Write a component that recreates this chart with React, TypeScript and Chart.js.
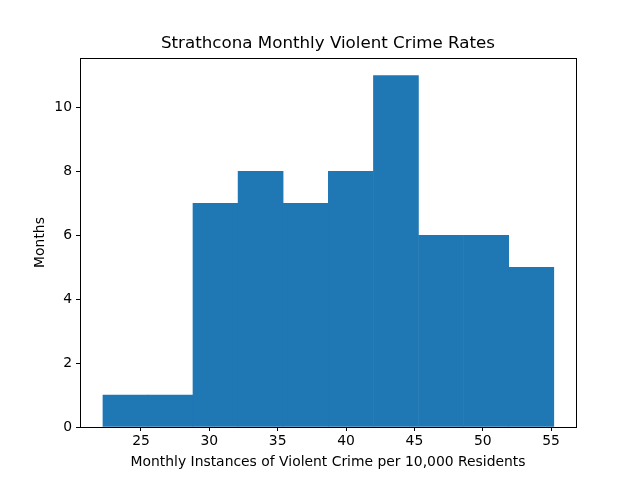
import React, { useEffect, useRef } from "react";
import Chart from "chart.js/auto";

const binEdges = [22.22, 25.51, 28.8, 32.1, 35.4, 38.7, 42.0, 45.3, 48.6, 51.9, 55.2];
const counts = [1, 1, 7, 8, 7, 8, 11, 6, 6, 5];
const xTicks = [25, 30, 35, 40, 45, 50, 55];
const yTicks = [0, 2, 4, 6, 8, 10];

const FONT = "'DejaVu Sans', sans-serif";

const App: React.FC = () => {
  const canvasRef = useRef<HTMLCanvasElement | null>(null);

  useEffect(() => {
    document.body.style.margin = "0";
    if (!canvasRef.current) return;
    const points = counts.map((c, i) => ({ x: (binEdges[i] + binEdges[i + 1]) / 2, y: c }));

    // frame, title and axis titles drawn by hand to match matplotlib placement
    const frame = {
      id: "frame",
      afterDraw(chart: any) {
        const { ctx, chartArea: a } = chart;
        ctx.save();
        ctx.strokeStyle = "#000";
        ctx.lineWidth = 1;
        ctx.strokeRect(a.left + 0.5, a.top + 0.5, a.right - a.left, a.bottom - a.top);
        ctx.fillStyle = "#000";
        ctx.textAlign = "center";
        ctx.font = `16.7px ${FONT}`;
        ctx.textBaseline = "bottom";
        ctx.fillText("Strathcona Monthly Violent Crime Rates", (a.left + a.right) / 2, a.top - 6);
        ctx.font = `13.9px ${FONT}`;
        ctx.textBaseline = "middle";
        ctx.fillText("Monthly Instances of Violent Crime per 10,000 Residents", (a.left + a.right) / 2, 462);
        ctx.translate(40, (a.top + a.bottom) / 2);
        ctx.rotate(-Math.PI / 2);
        ctx.fillText("Months", 0, 0);
        ctx.restore();
      },
    };

    const chart = new Chart(canvasRef.current, {
      type: "bar",
      data: {
        datasets: [
          {
            data: points,
            backgroundColor: "#1f77b4",
            barPercentage: 1,
            categoryPercentage: 1,
          },
        ],
      },
      options: {
        animation: false,
        responsive: false,
        layout: { padding: { top: 58, right: 64, left: 0, bottom: 0 } },
        plugins: { legend: { display: false }, tooltip: { enabled: false } },
        scales: {
          x: {
            type: "linear",
            offset: false,
            min: 20.54,
            max: 56.82,
            afterBuildTicks: (s: any) => { s.ticks = xTicks.map((v) => ({ value: v })); },
            afterFit: (s: any) => { s.height = 53; },
            grid: { offset: false, drawOnChartArea: false, tickLength: 4, color: "#000" },
            border: { display: false },
            ticks: { color: "#000", font: { family: FONT, size: 13.9 }, padding: 2, maxRotation: 0 },
          },
          y: {
            min: 0,
            max: 11.55,
            afterBuildTicks: (s: any) => { s.ticks = yTicks.map((v) => ({ value: v })); },
            afterFit: (s: any) => { s.width = 80; },
            grid: { drawOnChartArea: false, tickLength: 4, color: "#000" },
            border: { display: false },
            ticks: { color: "#000", font: { family: FONT, size: 13.9 }, padding: 4 },
          },
        },
      },
      plugins: [frame],
    });

    return () => chart.destroy();
  }, []);

  return <canvas ref={canvasRef} width={640} height={480} style={{ display: "block" }}></canvas>;
};

export default App;
